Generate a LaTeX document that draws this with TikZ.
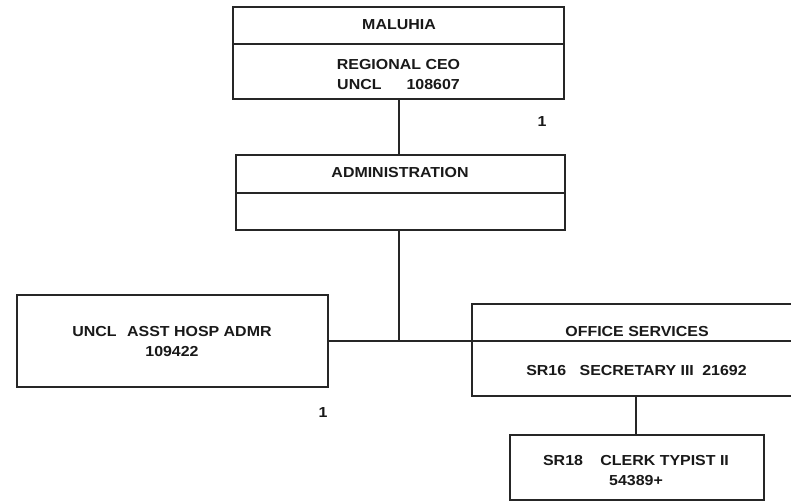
\documentclass[tikz,border=0pt]{standalone}
\usepackage{fontspec}
\setmainfont{Liberation Sans}[FakeStretch=1.1]
\begin{document}
\begin{tikzpicture}[x=1pt,y=-1pt,
  box/.style={draw=black!85, line width=1.7pt, inner sep=0pt, fill=white},
  divider/.style={draw=black!85, line width=1.3pt},
  conn/.style={draw=black!85, line width=1.1pt},
  lbl/.style={font=\fontsize{14.5}{20}\selectfont\bfseries, text=black!90, inner sep=0pt, anchor=base}]
\useasboundingbox (0,0) rectangle (791,503);
\clip (0,0) rectangle (791,503);
\fill[white] (0,0) rectangle (791,503);
% boxes
\node[box, minimum width=331pt, minimum height=92pt] (top) at (398.5,53) {};
\node[box, minimum width=329pt, minimum height=75pt] (admin) at (400.5,192.5) {};
\node[box, minimum width=311pt, minimum height=92pt] (asst) at (172.5,341) {};
\node[box, minimum width=333pt, minimum height=92pt] (office) at (638.5,350) {};
\node[box, minimum width=254pt, minimum height=65pt] (clerk) at (637,467.5) {};
% dividers
\coordinate (topdl) at (233,44); \coordinate (topdr) at (564,44);
\draw[divider] (topdl -| top.west) -- (topdr -| top.east);
\coordinate (admdl) at (236,193); \coordinate (admdr) at (565,193);
\draw[divider] (admdl -| admin.west) -- (admdr -| admin.east);
\coordinate (offdl) at (472,341); \coordinate (offdr) at (805,341);
\draw[divider] (offdl -| office.west) -- (offdr -| office.east);
% connectors
\coordinate (jn) at (399,341);
\draw[conn] (top.south -| jn) -- (admin.north -| jn);
\draw[conn] (admin.south -| jn) -- (jn);
\draw[conn] (asst.east |- jn) -- (office.west |- jn);
\coordinate (cx) at (636,0);
\draw[conn] (office.south -| cx) -- (clerk.north -| cx);
% texts
\node[lbl] (t1) at (399,29.3) {MALUHIA};
\node[lbl] (t2) at (398.5,69.3) {REGIONAL CEO};
\node[lbl] (t3) at (398.5,89.3) {UNCL\hspace{25pt}108607};
\node[lbl] (t4) at (400,177.3) {ADMINISTRATION};
\node[lbl] (t5) at (172,336) {UNCL\hspace{6pt} ASST HOSP ADMR};
\node[lbl] (t6) at (172,356) {109422};
\node[lbl] (t7) at (637,336) {OFFICE SERVICES};
\node[lbl] (t8) at (636.5,375) {SR16\hspace{9pt} SECRETARY III\hspace{4pt} 21692};
\node[lbl] (t9) at (636,465) {SR18\hspace{13pt} CLERK TYPIST II};
\node[lbl] (t10) at (636,485) {54389+};
\node[lbl] (n1) at (542,126) {1};
\node[lbl] (n2) at (323,417) {1};
\end{tikzpicture}
\end{document}
